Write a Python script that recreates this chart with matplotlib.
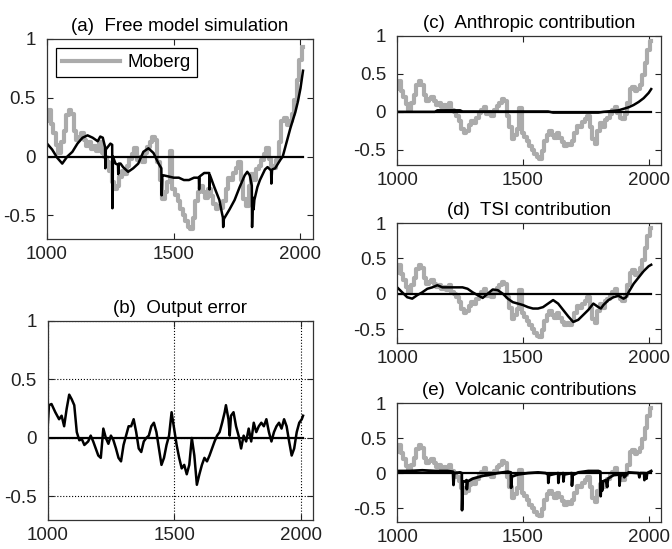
import numpy as np
import matplotlib
matplotlib.use("Agg")
import matplotlib.pyplot as plt

plt.rcParams['font.family'] = ['Liberation Sans', 'DejaVu Sans']
plt.rcParams['axes.unicode_minus'] = False

# Moberg reconstruction (grey), 10-year steps
moberg_years = list(range(1000, 2011, 10))
moberg_vals = [0.30, 0.40, 0.28, 0.20, 0.10, 0.03, 0.12, 0.22, 0.35, 0.40,
               0.36, 0.22, 0.14, 0.17, 0.20, 0.14, 0.09, 0.12, 0.06, 0.09,
               0.05, 0.12, 0.03, 0.00, -0.05, -0.12, -0.22, -0.28, -0.25, -0.17,
               -0.12, -0.15, -0.08, -0.02, 0.02, 0.07, -0.03, 0.00, -0.05, 0.03,
               0.08, 0.12, 0.17, 0.14, -0.05, -0.20, -0.36, -0.30, -0.22, 0.05,
               -0.28, -0.33, -0.38, -0.45, -0.50, -0.55, -0.60, -0.62, -0.52, -0.38,
               -0.30, -0.25, -0.30, -0.35, -0.28, -0.34, -0.40, -0.45, -0.42, -0.44,
               -0.38, -0.28, -0.18, -0.20, -0.14, -0.10, -0.05, -0.20, -0.36, -0.42,
               -0.25, -0.15, -0.20, -0.11, -0.08, -0.03, 0.02, 0.07, -0.02, -0.08,
               -0.10, -0.03, 0.12, 0.30, 0.33, 0.27, 0.30, 0.36, 0.48, 0.65,
               0.82, 0.93]

# free model simulation (black, panel a)
sim_years = [1000, 1020, 1040, 1060, 1080, 1100, 1120, 1140, 1160, 1180, 1200, 1210, 1220,
             1229, 1230, 1232, 1250, 1257, 1258, 1260, 1270, 1280, 1281, 1283, 1290, 1300,
             1320, 1340, 1360, 1380, 1400, 1420, 1440, 1451, 1452, 1455, 1460, 1480, 1500,
             1520, 1540, 1560, 1580, 1599, 1600, 1602, 1620, 1640, 1641, 1643, 1660, 1680,
             1690, 1694, 1695, 1698, 1720, 1740, 1760, 1780, 1790, 1800, 1808, 1809, 1812,
             1815, 1818, 1830, 1840, 1860, 1870, 1880, 1884, 1885, 1888, 1900, 1920, 1930,
             1940, 1960, 1980, 1990, 2000, 2010]
sim_vals = [0.11, 0.06, -0.01, -0.06, 0.00, 0.04, 0.11, 0.16, 0.18, 0.16, 0.13, 0.17, 0.16,
            0.08, -0.10, 0.06, 0.11, 0.10, -0.44, 0.00, -0.06, -0.07, -0.15, -0.06, -0.06, -0.09,
            -0.13, -0.10, -0.06, 0.04, 0.07, 0.03, -0.06, -0.10, -0.33, -0.16, -0.16, -0.17, -0.18,
            -0.18, -0.20, -0.20, -0.18, -0.18, -0.28, -0.17, -0.14, -0.14, -0.28, -0.16, -0.26, -0.37,
            -0.48, -0.52, -0.60, -0.53, -0.45, -0.37, -0.26, -0.16, -0.13, -0.16, -0.25, -0.60, -0.35,
            -0.45, -0.37, -0.26, -0.20, -0.11, -0.09, -0.11, -0.12, -0.23, -0.11, -0.10, -0.03, 0.00,
            0.08, 0.24, 0.38, 0.47, 0.58, 0.73]

# output error (panel b)
err_years = [1000, 1005, 1015, 1030, 1045, 1055, 1065, 1075, 1085, 1095, 1105, 1115, 1125,
             1135, 1145, 1160, 1170, 1180, 1190, 1200, 1210, 1220, 1230, 1240, 1250, 1260,
             1270, 1280, 1290, 1300, 1310, 1320, 1330, 1340, 1350, 1360, 1370, 1380, 1390,
             1400, 1410, 1420, 1430, 1440, 1450, 1460, 1470, 1480, 1490, 1500, 1510, 1520,
             1530, 1540, 1550, 1560, 1570, 1580, 1590, 1600, 1610, 1620, 1630, 1640, 1650,
             1660, 1670, 1680, 1690, 1700, 1705, 1715, 1720, 1725, 1735, 1745, 1755, 1765,
             1775, 1785, 1795, 1805, 1815, 1825, 1835, 1845, 1855, 1865, 1875, 1885, 1895,
             1905, 1915, 1925, 1935, 1945, 1955, 1965, 1975, 1985, 1995, 2005, 2010]
err_vals = [0.10, 0.28, 0.29, 0.22, 0.16, 0.19, 0.10, 0.25, 0.37, 0.33, 0.28, 0.05, -0.02,
            -0.01, -0.06, -0.03, 0.02, -0.03, -0.09, -0.15, -0.17, 0.08, 0.00, -0.05, 0.02, -0.02,
            -0.09, -0.17, -0.20, -0.06, 0.02, 0.10, 0.10, 0.16, 0.05, -0.09, -0.12, -0.03, 0.00,
            0.02, 0.10, 0.13, 0.05, -0.09, -0.23, -0.17, -0.06, 0.02, 0.22, 0.08, -0.06, -0.17,
            -0.26, -0.23, -0.31, -0.23, 0.00, -0.15, -0.40, -0.31, -0.23, -0.17, -0.20, -0.15, -0.09,
            -0.03, 0.02, 0.05, 0.13, 0.22, 0.28, 0.16, 0.02, 0.19, 0.22, 0.10, 0.02, -0.09,
            0.02, -0.03, 0.08, -0.03, 0.13, 0.05, 0.10, 0.13, 0.10, 0.16, 0.05, -0.03, 0.05,
            0.10, 0.13, 0.08, 0.16, 0.10, -0.03, -0.15, -0.09, 0.05, 0.13, 0.16, 0.19]

# anthropic contribution (panel c)
anth_years = [1000, 1150, 1160, 1250, 1260, 1600, 1620, 1800, 1820, 1850, 1880, 1900,
              1920, 1940, 1960, 1980, 2000, 2010]
anth_vals = [0.0, 0.0, 0.02, 0.02, 0.005, 0.005, -0.01, -0.01, 0.0, 0.01, 0.02, 0.04,
             0.06, 0.09, 0.13, 0.18, 0.25, 0.30]

# TSI contribution (panel d)
tsi_years = [1000, 1020, 1040, 1060, 1080, 1100, 1120, 1140, 1160, 1180, 1200, 1220, 1240,
             1260, 1280, 1300, 1320, 1340, 1360, 1380, 1400, 1420, 1440, 1460, 1480, 1500,
             1520, 1540, 1560, 1580, 1600, 1620, 1640, 1660, 1680, 1700, 1720, 1740, 1760,
             1780, 1800, 1810, 1820, 1840, 1860, 1880, 1900, 1910, 1920, 1940, 1960, 1980,
             2000, 2010]
tsi_vals = [0.09, 0.02, -0.05, -0.07, -0.02, 0.02, 0.07, 0.09, 0.12, 0.09, 0.09, 0.09, 0.09,
            0.09, 0.07, 0.02, -0.02, -0.06, 0.00, 0.06, 0.05, 0.00, -0.07, -0.12, -0.14, -0.16,
            -0.19, -0.21, -0.21, -0.19, -0.14, -0.09, -0.14, -0.23, -0.32, -0.40, -0.37, -0.30, -0.23,
            -0.14, -0.19, -0.21, -0.16, -0.09, -0.05, -0.03, -0.07, -0.05, 0.02, 0.14, 0.23, 0.32,
            0.39, 0.41]

# volcanic contribution (panel e)
volc_years = [1000, 1050, 1100, 1150, 1200, 1222, 1224, 1227, 1250, 1257, 1258, 1261, 1270,
              1276, 1277, 1280, 1300, 1320, 1340, 1370, 1400, 1440, 1452, 1453, 1456, 1480,
              1520, 1560, 1590, 1600, 1601, 1604, 1640, 1641, 1644, 1660, 1661, 1664, 1694,
              1695, 1698, 1720, 1760, 1800, 1808, 1809, 1812, 1815, 1818, 1830, 1835, 1838,
              1860, 1883, 1884, 1887, 1900, 1903, 1920, 1960, 1963, 1966, 1982, 1983, 1986,
              1991, 1994, 2010]
volc_vals = [0.03, 0.03, 0.04, 0.03, 0.03, 0.02, -0.17, 0.00, 0.01, 0.00, -0.53, -0.12, -0.12,
             -0.10, -0.23, -0.12, -0.08, -0.06, -0.04, -0.02, 0.00, 0.02, 0.01, -0.21, -0.05, -0.02,
             0.00, 0.01, 0.00, -0.02, -0.14, -0.03, 0.00, -0.14, -0.02, 0.00, -0.12, -0.02, 0.00,
             -0.18, -0.03, 0.01, 0.03, 0.03, 0.02, -0.33, -0.12, -0.25, -0.12, -0.10, -0.20, -0.08,
             -0.03, -0.02, -0.18, -0.04, -0.02, -0.06, 0.01, 0.00, -0.06, 0.00, 0.00, -0.10, 0.00,
             -0.08, 0.00, 0.03]

xticks = [1000, 1500, 2000]
yticks = [-0.5, 0, 0.5, 1]
ytick_labels = ['-0.5', '0', '0.5', '1']

GREY = '#ababab'
FS = 13.5


def style_axes(ax, title):
    ax.set_xlim(1000, 2050)
    ax.set_ylim(-0.7, 1)
    ax.set_xticks(xticks)
    ax.set_xticklabels([str(t) for t in xticks])
    ax.set_yticks(yticks)
    ax.set_yticklabels(ytick_labels)
    ax.tick_params(direction='in', top=True, right=True, length=4, width=0.8,
                   labelsize=FS, colors='#222222')
    ax.tick_params(axis='y', pad=8)
    ax.tick_params(axis='x', pad=5)
    for s in ax.spines.values():
        s.set_linewidth(0.9)
        s.set_color('#333333')
    ax.set_title(title, fontsize=FS, pad=6)


def zero_line(ax):
    ax.plot([1000, 2010], [0, 0], color='black', linewidth=1.6)


fig = plt.figure(figsize=(6.72, 5.49), dpi=100)

# (a) free model simulation
ax_a = fig.add_axes([0.070, 0.565, 0.396, 0.364])
ax_a.plot(moberg_years, moberg_vals, color=GREY, linewidth=3, drawstyle='steps-mid', label='Moberg')
zero_line(ax_a)
ax_a.plot(sim_years, sim_vals, color='black', linewidth=1.8)
style_axes(ax_a, '(a)  Free model simulation')
leg = ax_a.legend(loc='upper left', fontsize=FS, handlelength=3.1, fancybox=False,
                  framealpha=1, edgecolor='black', borderpad=0.3, handletextpad=0.4)
leg.get_frame().set_linewidth(0.9)

# (b) output error
ax_b = fig.add_axes([0.071, 0.053, 0.395, 0.3625])
ax_b.grid(True, linestyle=':', color='black', linewidth=0.8)
zero_line(ax_b)
ax_b.plot(err_years, err_vals, color='black', linewidth=1.8)
style_axes(ax_b, '(b)  Output error')

# (c) anthropic contribution
ax_c = fig.add_axes([0.591, 0.6995, 0.393, 0.235])
ax_c.plot(moberg_years, moberg_vals, color=GREY, linewidth=3, drawstyle='steps-mid')
zero_line(ax_c)
ax_c.plot(anth_years, anth_vals, color='black', linewidth=1.8)
style_axes(ax_c, '(c)  Anthropic contribution')

# (d) TSI contribution
ax_d = fig.add_axes([0.591, 0.375, 0.393, 0.2186])
ax_d.plot(moberg_years, moberg_vals, color=GREY, linewidth=3, drawstyle='steps-mid')
zero_line(ax_d)
ax_d.plot(tsi_years, tsi_vals, color='black', linewidth=1.8)
style_axes(ax_d, '(d)  TSI contribution')

# (e) volcanic contributions
ax_e = fig.add_axes([0.591, 0.049, 0.393, 0.2168])
ax_e.plot(moberg_years, moberg_vals, color=GREY, linewidth=3, drawstyle='steps-mid')
zero_line(ax_e)
ax_e.plot(volc_years, volc_vals, color='black', linewidth=2)
style_axes(ax_e, '(e)  Volcanic contributions')

fig.savefig('out.png', dpi=100)
